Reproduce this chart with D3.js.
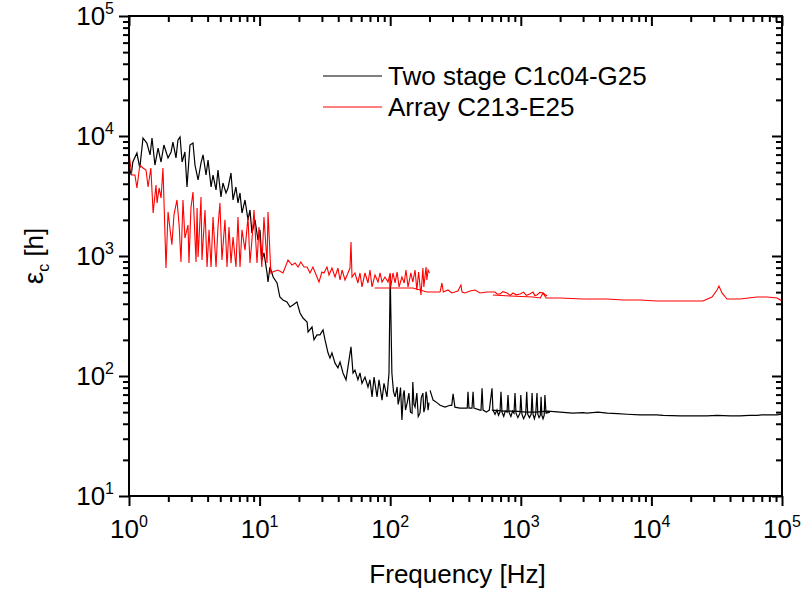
<!DOCTYPE html>
<html>
<head>
<meta charset="utf-8">
<script src="https://cdn.jsdelivr.net/npm/d3@7"></script>
<style>
  body { margin: 0; background: #fff; }
  svg { display: block; font-family: Arial, "Liberation Sans", sans-serif; }
  .tick line { stroke: #000; stroke-width: 2; }
  .domain { display: none; }
</style>
</head>
<body>
<div id="chart"></div>
<script>
// legend labels and colours
const seriesNames = ["Two stage C1c04-G25", "Array C213-E25"];
const seriesColors = ["#000000", "#ff0000"];

// axis decades
const xDecades = [1, 10, 100, 1000, 10000, 100000];
const yDecades = [10, 100, 1000, 10000, 100000];

// Two stage C1c04-G25 : [frequency Hz, eps_c h]
const twoStageLow = [
  [1.0, 5700], [1.04, 4730], [1.07, 6070], [1.15, 7210], [1.21, 5410], [1.28, 9620], [1.37, 8740],
  [1.45, 6950], [1.50, 9620], [1.58, 5730], [1.67, 7940], [1.76, 6070], [1.85, 8410], [1.99, 6560],
  [2.10, 7360], [2.17, 8910], [2.29, 6560], [2.37, 9260], [2.46, 9810], [2.55, 6070], [2.68, 7360],
  [2.78, 3760], [2.93, 8410], [3.09, 8740], [3.20, 5730], [3.38, 4300], [3.56, 5960], [3.69, 6950],
  [3.89, 4730], [4.03, 6310], [4.25, 3760], [4.40, 4730], [4.64, 3550], [4.80, 5210], [5.06, 3100],
  [5.24, 4060], [5.53, 3350], [5.73, 3690], [6.04, 4920], [6.26, 2930], [6.59, 3760], [6.83, 2770],
  [7.08, 3350], [7.33, 2280], [7.73, 2930], [8.15, 2000], [8.44, 2420], [8.74, 1560], [9.22, 2000],
  [9.72, 1360], [10.07, 1650], [10.4, 926], [10.8, 1060], [11.4, 722], [11.6, 607], [12.0, 810],
  [12.7, 668], [13.6, 596], [14.3, 455], [15.1, 430], [16.2, 414], [17.1, 376], [18.0, 391],
  [19.3, 414], [20.4, 335], [21.5, 304], [23.1, 282], [23.5, 233], [25.2, 256], [26.1, 200],
  [27.5, 220], [29.0, 220], [30.6, 242], [31.7, 200], [33.4, 156], [34.6, 141], [35.8, 156],
  [37.8, 128], [39.8, 117], [41.3, 131], [43.5, 106], [45.9, 93], [47.5, 119], [50.1, 175],
  [51.9, 106], [53.7, 112], [56.6, 93], [58.7, 106], [60.8, 87], [64.1, 98], [67.6, 81], [70, 93],
  [72.6, 67], [75.2, 98], [79.3, 67], [82.1, 93], [86.6, 63], [89.6, 87], [94.5, 67], [97.9, 106],
  [100, 700], [103, 106], [106, 74], [109, 67], [113, 81], [115, 58], [117, 63], [120, 80], [123, 43],
  [126, 70], [128, 76], [131, 52], [135, 60], [139, 72], [143, 50], [147, 49], [149, 89], [152, 58],
  [155, 55], [160, 72], [164, 46], [169, 49], [173, 66], [178, 72], [181, 50], [185, 55], [188, 74],
  [191, 67], [195, 52], [198, 60]
];
const twoStageMid = [
  [202, 76], [213, 63], [228, 60], [241, 57], [263, 55], [287, 57], [296, 57], [303, 71], [313, 55],
  [342, 54], [374, 54], [389, 54], [394, 74], [401, 54], [423, 54], [431, 74], [438, 54], [487, 52],
  [496, 52], [505, 79], [514, 52], [545, 50], [574, 52], [602, 79], [612, 52], [635, 48], [657, 52],
  [675, 47], [693, 50], [705, 74], [718, 50], [740, 46], [760, 51], [784, 50], [798, 69.5], [812, 50],
  [840, 46], [865, 51], [887, 49], [903, 72], [919, 49], [950, 45], [986, 49], [1000, 69.5], [1020, 48],
  [1050, 44], [1090, 48], [1110, 74], [1130, 48], [1165, 45], [1200, 48], [1220, 72], [1240, 48],
  [1270, 44], [1300, 48], [1330, 72], [1350, 48], [1380, 45], [1410, 47], [1430, 67], [1450, 47],
  [1480, 44], [1510, 47], [1530, 69.5], [1560, 49], [1670, 50]
];
const twoStageHigh = [
  [600, 52], [750, 51], [900, 51], [1100, 50], [1300, 50], [1600, 51], [1800, 50.5], [2000, 50],
  [2500, 49], [3000, 49.5], [3200, 49], [3900, 50], [4600, 49], [5500, 48.5], [6500, 48], [8200, 47.5],
  [11000, 47.5], [12300, 47], [16600, 46.5], [20000, 46.5], [26700, 46.5], [32000, 47], [40000, 46.5],
  [47700, 46.5], [56000, 47], [64400, 47], [70000, 47.5], [80900, 47.5], [91600, 47.5], [100000, 48]
];

// Array C213-E25 : [frequency Hz, eps_c h]
const arrayLow = [
  [1.0, 7200], [1.05, 4730], [1.11, 4730], [1.15, 3690], [1.21, 5730], [1.28, 5410], [1.35, 5210],
  [1.40, 3760], [1.47, 5410], [1.53, 2280], [1.61, 3910], [1.64, 2770], [1.70, 3690], [1.76, 3040],
  [1.82, 5410], [1.92, 794], [1.99, 2330], [2.13, 1240], [2.21, 2200], [2.33, 2930], [2.42, 1810],
  [2.50, 891], [2.59, 2930], [2.68, 1410], [2.83, 1810], [2.88, 874], [2.98, 2510], [3.09, 3410],
  [3.26, 891], [3.32, 2510], [3.38, 981], [3.44, 1410], [3.56, 3100], [3.62, 926], [3.82, 2420],
  [3.96, 810], [4.10, 1650], [4.25, 810], [4.40, 2110], [4.64, 810], [4.80, 1740], [4.97, 2770],
  [5.15, 926], [5.43, 2000], [5.63, 810], [5.83, 1740], [6.04, 874], [6.26, 1440], [6.59, 810],
  [6.83, 2110], [7.08, 810], [7.33, 1650], [7.73, 1120], [8.15, 2110], [8.44, 874], [8.74, 1360],
  [9.06, 2420], [9.55, 874], [9.89, 1740], [10.4, 810], [10.8, 2110], [11.4, 874], [11.6, 2330],
  [12.2, 722], [12.7, 740], [13.8, 764], [15.1, 722], [16.5, 926], [17.7, 841], [18.7, 874],
  [19.7, 810], [20.7, 891], [21.9, 810], [23.1, 810], [24.3, 722], [25.6, 810], [27.5, 668],
  [28.5, 607], [30.0, 736], [31.1, 722], [32.8, 810], [34.0, 695], [35.8, 794], [37.8, 668],
  [39.8, 794], [41.3, 631], [42.8, 764], [45.1, 631], [47.5, 722], [49.2, 794], [50.1, 1310],
  [51, 668], [53.7, 722], [56.6, 596], [58.7, 722], [60.8, 552], [64.1, 722], [67.6, 596], [70, 764],
  [72.6, 552], [76.5, 695], [80.7, 607], [83.6, 722], [86.6, 607], [91.2, 668], [96.2, 607],
  [100, 722], [101, 552], [105, 722], [109, 596], [113, 736], [117, 552], [123, 668], [128, 596],
  [132, 764], [137, 552], [144, 722], [149, 607], [155, 764], [160, 521], [165, 736], [172, 473],
  [178, 794], [181, 552], [188, 810], [191, 631], [195, 764], [200, 720]
];
const arrayMid = [
  [76, 541], [90, 541], [100, 541], [149, 541], [169, 521], [191, 501], [220, 501], [241, 501],
  [249, 596], [255, 501], [277, 521], [296, 492], [330, 511], [348, 573], [355, 501], [374, 492],
  [408, 511], [446, 521], [487, 492], [551, 501], [634, 501], [660, 482], [693, 482], [730, 505],
  [784, 492], [830, 470], [871, 492], [920, 475], [986, 482], [1050, 500], [1100, 470], [1170, 482],
  [1240, 500], [1280, 468], [1330, 473], [1400, 497], [1480, 492], [1590, 464]
];
const arrayHigh = [
  [612, 473], [830, 464], [1240, 455], [1410, 447], [1480, 492], [1560, 447], [2000, 447], [2990, 438],
  [4570, 438], [6070, 430], [8180, 430], [11000, 422], [18700, 422], [24800, 422], [29100, 455],
  [31800, 521], [32900, 562], [34700, 492], [37900, 438], [47700, 438], [64400, 455], [76800, 455],
  [91600, 447], [100000, 422]
];

const W = 804, H = 596;
const plotL = 129, plotR = 782, plotT = 16, plotB = 496;

const x = d3.scaleLog().domain([1, 1e5]).range([plotL, plotR]);
const y = d3.scaleLog().domain([10, 1e5]).range([plotB, plotT]);

const svg = d3.select("#chart").append("svg").attr("width", W).attr("height", H);

svg.append("defs").append("clipPath").attr("id", "plot")
  .append("rect").attr("x", plotL).attr("y", plotT).attr("width", plotR - plotL).attr("height", plotB - plotT);

const line = d3.line().x(d => x(d[0])).y(d => y(d[1]));

const g = svg.append("g").attr("clip-path", "url(#plot)");
[twoStageLow, twoStageMid, twoStageHigh].forEach(seg => {
  g.append("path").datum(seg).attr("d", line)
    .attr("fill", "none").attr("stroke", seriesColors[0]).attr("stroke-width", 1.2);
});
[arrayLow, arrayMid, arrayHigh].forEach(seg => {
  g.append("path").datum(seg).attr("d", line)
    .attr("fill", "none").attr("stroke", seriesColors[1]).attr("stroke-width", 1.1);
});

// axes: all 1..9 multiples from the log scale, decades get longer ticks
const xAll = x.ticks();
const yAll = y.ticks();
const isMajor = v => Math.abs(Math.log10(v) - Math.round(Math.log10(v))) < 1e-9;
const xMinor = xAll.filter(v => !isMajor(v));
const yMinor = yAll.filter(v => !isMajor(v));

function addAxis(axisFn, scale, vals, size, tx, ty) {
  svg.append("g").attr("transform", `translate(${tx},${ty})`)
    .call(axisFn(scale).tickValues(vals).tickSize(size).tickFormat(""));
}
// bottom / left outward, top / right inward
addAxis(d3.axisBottom, x, xMinor, 6, 0, plotB);
addAxis(d3.axisBottom, x, xDecades, 10, 0, plotB);
addAxis(d3.axisTop, x, xMinor, -6, 0, plotT);
addAxis(d3.axisTop, x, xDecades, -10, 0, plotT);
addAxis(d3.axisLeft, y, yMinor, 6, plotL, 0);
addAxis(d3.axisLeft, y, yDecades, 10, plotL, 0);
addAxis(d3.axisRight, y, yMinor, -6, plotR, 0);
addAxis(d3.axisRight, y, yDecades, -10, plotR, 0);

svg.append("rect").attr("x", plotL).attr("y", plotT).attr("width", plotR - plotL).attr("height", plotB - plotT)
  .attr("fill", "none").attr("stroke", "#000").attr("stroke-width", 2);

// tick labels 10^n
xDecades.forEach(v => {
  const t = svg.append("text").attr("x", x(v)).attr("y", 538).attr("text-anchor", "middle")
    .attr("font-size", 26).attr("fill", "#000");
  t.append("tspan").text("10");
  t.append("tspan").attr("dy", -11).attr("font-size", 16).text(Math.round(Math.log10(v)));
});
yDecades.forEach(v => {
  const t = svg.append("text").attr("x", 114).attr("y", y(v) + 9).attr("text-anchor", "end")
    .attr("font-size", 26).attr("fill", "#000");
  t.append("tspan").text("10");
  t.append("tspan").attr("dy", -11).attr("font-size", 16).text(Math.round(Math.log10(v)));
});

// axis titles
svg.append("text").attr("x", (plotL + plotR) / 2 + 2).attr("y", 583).attr("text-anchor", "middle")
  .attr("font-size", 26).text("Frequency [Hz]");

const yt = svg.append("text").attr("transform", `translate(43,${(plotT + plotB) / 2}) rotate(-90)`)
  .attr("text-anchor", "middle").attr("font-size", 26);
yt.append("tspan").attr("font-size", 28).text("ε");
yt.append("tspan").attr("dy", 6).attr("font-size", 16).text("c");
yt.append("tspan").attr("dy", -6).text(" [h]");

// legend
const legend = svg.append("g");
seriesNames.forEach((name, i) => {
  const ly = 76 + i * 31;
  legend.append("line").attr("x1", 323).attr("x2", 382).attr("y1", ly).attr("y2", ly)
    .attr("stroke", seriesColors[i]).attr("stroke-width", 1);
  legend.append("text").attr("x", 388).attr("y", ly + 9).attr("font-size", 26).text(name);
});
</script>
</body>
</html>
